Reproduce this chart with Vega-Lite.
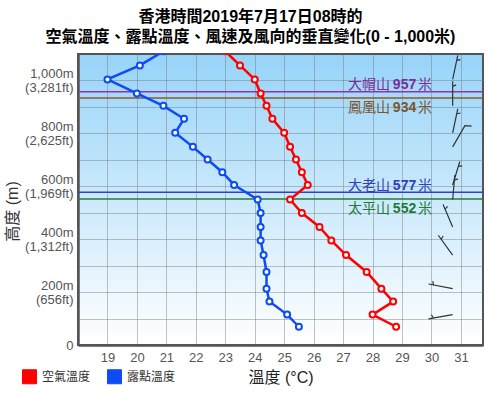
{
  "$schema": "https://vega.github.io/schema/vega-lite/v6.json",
  "autosize": {"type": "none"},
  "width": 405,
  "height": 291,
  "padding": {"left": 78, "top": 54, "right": 11, "bottom": 50},
  "background": "white",
  "title": {
    "text": ["香港時間2019年7月17日08時的", "空氣溫度、露點溫度、風速及風向的垂直變化(0 - 1,000米)"],
    "fontSize": 16, "fontWeight": "bold", "color": "#000", "lineHeight": 20,
    "anchor": "middle", "dx": -30, "offset": 8
  },
  "view": {
    "fill": {"gradient": "linear", "x1": 0, "y1": 0, "x2": 0, "y2": 1,
      "stops": [{"offset": 0, "color": "#97d4f9"}, {"offset": 1, "color": "#ffffff"}]},
    "stroke": "#555", "strokeWidth": 2
  },
  "datasets": {
    "profile": [
      {"h": 69, "空氣溫度": 28.8, "露點溫度": 25.5},
      {"h": 115, "空氣溫度": 28.0, "露點溫度": 25.1},
      {"h": 164, "空氣溫度": 28.7, "露點溫度": 24.5},
      {"h": 213, "空氣溫度": 28.3, "露點溫度": 24.4},
      {"h": 276, "空氣溫度": 27.8, "露點溫度": 24.4},
      {"h": 340, "空氣溫度": 27.1, "露點溫度": 24.3},
      {"h": 395, "空氣溫度": 26.6, "露點溫度": 24.2},
      {"h": 446, "空氣溫度": 26.2, "露點溫度": 24.2},
      {"h": 499, "空氣溫度": 25.6, "露點溫度": 24.2},
      {"h": 550, "空氣溫度": 25.2, "露點溫度": 24.1},
      {"h": 605, "空氣溫度": 25.8, "露點溫度": 23.3},
      {"h": 653, "空氣溫度": 25.6, "露點溫度": 22.9},
      {"h": 701, "空氣溫度": 25.4, "露點溫度": 22.4},
      {"h": 749, "空氣溫度": 25.2, "露點溫度": 21.9},
      {"h": 802, "空氣溫度": 25.0, "露點溫度": 21.3},
      {"h": 855, "空氣溫度": 24.6, "露點溫度": 21.6},
      {"h": 904, "空氣溫度": 24.4, "露點溫度": 20.9},
      {"h": 951, "空氣溫度": 24.2, "露點溫度": 20.0},
      {"h": 1004, "空氣溫度": 24.0, "露點溫度": 19.0},
      {"h": 1057, "空氣溫度": 23.5, "露點溫度": 20.1},
      {"h": 1110, "空氣溫度": 23.0, "露點溫度": 20.9}
    ],
    "mountains": [
      {"name": "大帽山", "h": 957, "pos": "above"},
      {"name": "鳳凰山", "h": 934, "pos": "below"},
      {"name": "大老山", "h": 577, "pos": "above"},
      {"name": "太平山", "h": 552, "pos": "below"}
    ],
    "wind": [
      {"h": 1004, "dir": 12, "spd": 5},
      {"h": 904, "dir": 0, "spd": 5},
      {"h": 802, "dir": 12, "spd": 5},
      {"h": 749, "dir": 30, "spd": 10},
      {"h": 605, "dir": 17, "spd": 5},
      {"h": 550, "dir": 5, "spd": 5},
      {"h": 446, "dir": 337, "spd": 5},
      {"h": 340, "dir": 324, "spd": 5},
      {"h": 213, "dir": 281, "spd": 5},
      {"h": 115, "dir": 260, "spd": 5}
    ]
  },
  "encoding": {
    "y": {
      "field": "h", "type": "quantitative",
      "scale": {"domain": [0, 1100], "nice": false, "zero": true},
      "axis": {
        "values": [0, 100, 200, 300, 400, 500, 600, 700, 800, 900, 1000],
        "labelExpr": "datum.value == 0 ? '0' : (datum.value % 200 == 0 ? [format(datum.value, ',') + 'm', '(' + format(round(datum.value * 3.28084), ',') + 'ft)'] : '')",
        "labelOverlap": false, "labelBound": false,
        "labelOffset": {"expr": "datum.value == 0 ? 0 : -7"},
        "grid": true, "ticks": false,
        "labelFontSize": 13, "labelColor": "#555", "labelPadding": 5, "labelLineHeight": 14,
        "title": "高度 (m)", "titleFontSize": 16, "titleFontWeight": "normal", "titleColor": "#333",
        "titleX": -58, "titleY": 157
      }
    }
  },
  "layer": [
    {
      "data": {"name": "mountains"},
      "mark": {"type": "rule", "strokeWidth": 1.5},
      "encoding": {
        "stroke": {"field": "name", "type": "nominal",
          "scale": {"domain": ["大帽山", "鳳凰山", "大老山", "太平山"], "range": ["#9c2fae", "#8b5a2b", "#3340cc", "#267a3c"]},
          "legend": null}
      }
    },
    {
      "data": {"name": "mountains"},
      "transform": [{"filter": "datum.pos == 'above'"}],
      "encoding": {
        "fill": {"field": "name", "type": "nominal",
          "scale": {"domain": ["大帽山", "鳳凰山", "大老山", "太平山"], "range": ["#7b2d9a", "#7a5530", "#2f3fbf", "#1e7a3a"]},
          "legend": null}
      },
      "layer": [
        {"mark": {"type": "text", "align": "left", "baseline": "middle", "dy": -6.5, "fontSize": 14},
         "encoding": {"x": {"datum": 27.17, "type": "quantitative", "axis": {"values": [19, 20, 21, 22, 23, 24, 25, 26, 27, 28, 29, 30, 31], "labelOverlap": false, "labelFlush": false, "grid": true, "ticks": false, "labelPadding": 6, "labelFontSize": 13, "labelColor": "#555", "title": "溫度 (°C)", "titleFontSize": 16, "titleFontWeight": "normal", "titleColor": "#222", "titlePadding": 5}}, "text": {"field": "name"}}},
        {"mark": {"type": "text", "align": "left", "baseline": "middle", "dy": -6.5, "fontSize": 14, "fontWeight": "bold"},
         "encoding": {"x": {"datum": 28.69, "type": "quantitative", "axis": {"values": [19, 20, 21, 22, 23, 24, 25, 26, 27, 28, 29, 30, 31], "labelOverlap": false, "labelFlush": false, "grid": true, "ticks": false, "labelPadding": 6, "labelFontSize": 13, "labelColor": "#555", "title": "溫度 (°C)", "titleFontSize": 16, "titleFontWeight": "normal", "titleColor": "#222", "titlePadding": 5}}, "text": {"field": "h", "type": "quantitative", "format": "d"}}},
        {"mark": {"type": "text", "align": "left", "baseline": "middle", "dy": -6.5, "fontSize": 14, "text": "米"},
         "encoding": {"x": {"datum": 29.54, "type": "quantitative", "axis": {"values": [19, 20, 21, 22, 23, 24, 25, 26, 27, 28, 29, 30, 31], "labelOverlap": false, "labelFlush": false, "grid": true, "ticks": false, "labelPadding": 6, "labelFontSize": 13, "labelColor": "#555", "title": "溫度 (°C)", "titleFontSize": 16, "titleFontWeight": "normal", "titleColor": "#222", "titlePadding": 5}}}}
      ]
    },
    {
      "data": {"name": "mountains"},
      "transform": [{"filter": "datum.pos == 'below'"}],
      "encoding": {
        "fill": {"field": "name", "type": "nominal",
          "scale": {"domain": ["大帽山", "鳳凰山", "大老山", "太平山"], "range": ["#7b2d9a", "#7a5530", "#2f3fbf", "#1e7a3a"]},
          "legend": null}
      },
      "layer": [
        {"mark": {"type": "text", "align": "left", "baseline": "middle", "dy": 10.5, "fontSize": 14},
         "encoding": {"x": {"datum": 27.17, "type": "quantitative", "axis": {"values": [19, 20, 21, 22, 23, 24, 25, 26, 27, 28, 29, 30, 31], "labelOverlap": false, "labelFlush": false, "grid": true, "ticks": false, "labelPadding": 6, "labelFontSize": 13, "labelColor": "#555", "title": "溫度 (°C)", "titleFontSize": 16, "titleFontWeight": "normal", "titleColor": "#222", "titlePadding": 5}}, "text": {"field": "name"}}},
        {"mark": {"type": "text", "align": "left", "baseline": "middle", "dy": 10.5, "fontSize": 14, "fontWeight": "bold"},
         "encoding": {"x": {"datum": 28.69, "type": "quantitative", "axis": {"values": [19, 20, 21, 22, 23, 24, 25, 26, 27, 28, 29, 30, 31], "labelOverlap": false, "labelFlush": false, "grid": true, "ticks": false, "labelPadding": 6, "labelFontSize": 13, "labelColor": "#555", "title": "溫度 (°C)", "titleFontSize": 16, "titleFontWeight": "normal", "titleColor": "#222", "titlePadding": 5}}, "text": {"field": "h", "type": "quantitative", "format": "d"}}},
        {"mark": {"type": "text", "align": "left", "baseline": "middle", "dy": 10.5, "fontSize": 14, "text": "米"},
         "encoding": {"x": {"datum": 29.54, "type": "quantitative", "axis": {"values": [19, 20, 21, 22, 23, 24, 25, 26, 27, 28, 29, 30, 31], "labelOverlap": false, "labelFlush": false, "grid": true, "ticks": false, "labelPadding": 6, "labelFontSize": 13, "labelColor": "#555", "title": "溫度 (°C)", "titleFontSize": 16, "titleFontWeight": "normal", "titleColor": "#222", "titlePadding": 5}}}}
      ]
    },
    {
      "data": {"name": "profile"},
      "transform": [{"fold": ["空氣溫度", "露點溫度"], "as": ["series", "value"]}],
      "encoding": {
        "x": {
          "field": "value", "type": "quantitative",
          "scale": {"domain": [18, 31.75], "nice": false, "zero": false},
          "axis": {"values": [19, 20, 21, 22, 23, 24, 25, 26, 27, 28, 29, 30, 31], "labelOverlap": false, "labelFlush": false, "grid": true, "ticks": false, "labelPadding": 6, "labelFontSize": 13, "labelColor": "#555", "title": "溫度 (°C)", "titleFontSize": 16, "titleFontWeight": "normal", "titleColor": "#222", "titlePadding": 5}
        },
        "color": {
          "field": "series", "type": "nominal",
          "scale": {"domain": ["空氣溫度", "露點溫度"], "range": ["#ff0000", "#0d4bf7"]},
          "legend": {
            "orient": "none", "legendX": -56, "legendY": 315, "direction": "horizontal",
            "title": null, "symbolType": "square", "symbolSize": 196,
            "labelFontSize": 12, "labelColor": "#333", "labelOffset": 5, "columnPadding": 14,
            "encode": {"symbols": {"update": {
              "fill": {"scale": "color", "field": "value"},
              "stroke": {"value": "#aaa"}, "strokeWidth": {"value": 1}, "opacity": {"value": 1}
            }}}
          }
        },
        "order": {"field": "h", "type": "quantitative"}
      },
      "layer": [
        {"mark": {"type": "line", "strokeWidth": 2.5, "clip": true}},
        {"mark": {"type": "point", "filled": false, "fill": "white", "size": 36, "strokeWidth": 2, "opacity": 1, "clip": true}}
      ]
    },
    {
      "data": {"name": "wind"},
      "mark": {"type": "point", "filled": false, "size": 4, "stroke": "#333", "strokeWidth": 1.2, "opacity": 1},
      "encoding": {
        "x": {"datum": 30.72, "type": "quantitative", "axis": {"values": [19, 20, 21, 22, 23, 24, 25, 26, 27, 28, 29, 30, 31], "labelOverlap": false, "labelFlush": false, "grid": true, "ticks": false, "labelPadding": 6, "labelFontSize": 13, "labelColor": "#555", "title": "溫度 (°C)", "titleFontSize": 16, "titleFontWeight": "normal", "titleColor": "#222", "titlePadding": 5}},
        "angle": {"field": "dir", "type": "quantitative", "scale": {"domain": [0, 360], "range": [0, 360]}},
        "shape": {"field": "spd", "type": "nominal",
          "scale": {"domain": [5, 10], "range": ["M0,0L0,-24.5M0,-19.5L3.5,-21", "M0,0L0,-24.5L6,-27.5"]},
          "legend": null}
      }
    }
  ],
  "config": {
    "font": "Liberation Sans, Noto Sans CJK TC, sans-serif",
    "axis": {"domainColor": "#555", "domainWidth": 2.5, "gridColor": "#777", "gridOpacity": 0.45, "gridWidth": 1},
    "axisX": {"labelOverlap": false}
  }
}
